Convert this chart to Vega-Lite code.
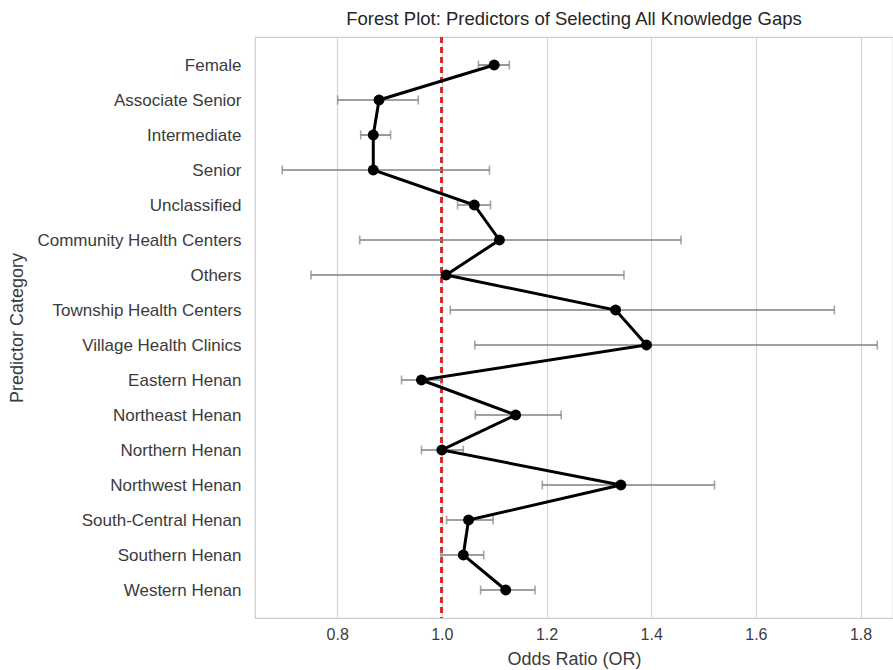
{
  "$schema": "https://vega.github.io/schema/vega-lite/v6.json",
  "width": 638,
  "height": 581,
  "autosize": "none",
  "padding": {"left": 255, "top": 37, "right": 0, "bottom": 52},
  "background": "white",
  "title": {
    "text": "Forest Plot: Predictors of Selecting All Knowledge Gaps",
    "fontSize": 18.5,
    "fontWeight": "normal",
    "font": "Liberation Sans",
    "color": "#262626",
    "offset": 8,
    "anchor": "middle"
  },
  "config": {
    "view": {"stroke": "#cccccc", "strokeWidth": 1.2},
    "font": "Liberation Sans"
  },
  "data": {
    "values": [
      {"p": "Female", "idx": 0, "or": 1.10, "lo": 1.07, "hi": 1.129},
      {"p": "Associate Senior", "idx": 1, "or": 0.88, "lo": 0.801, "hi": 0.955},
      {"p": "Intermediate", "idx": 2, "or": 0.869, "lo": 0.845, "hi": 0.902},
      {"p": "Senior", "idx": 3, "or": 0.869, "lo": 0.695, "hi": 1.091},
      {"p": "Unclassified", "idx": 4, "or": 1.062, "lo": 1.03, "hi": 1.093},
      {"p": "Community Health Centers", "idx": 5, "or": 1.11, "lo": 0.843, "hi": 1.457},
      {"p": "Others", "idx": 6, "or": 1.008, "lo": 0.75, "hi": 1.348},
      {"p": "Township Health Centers", "idx": 7, "or": 1.332, "lo": 1.016, "hi": 1.75},
      {"p": "Village Health Clinics", "idx": 8, "or": 1.391, "lo": 1.063, "hi": 1.832},
      {"p": "Eastern Henan", "idx": 9, "or": 0.961, "lo": 0.923, "hi": 0.998},
      {"p": "Northeast Henan", "idx": 10, "or": 1.141, "lo": 1.064, "hi": 1.228},
      {"p": "Northern Henan", "idx": 11, "or": 1.0, "lo": 0.961, "hi": 1.041},
      {"p": "Northwest Henan", "idx": 12, "or": 1.342, "lo": 1.192, "hi": 1.521},
      {"p": "South-Central Henan", "idx": 13, "or": 1.051, "lo": 1.009, "hi": 1.098},
      {"p": "Southern Henan", "idx": 14, "or": 1.041, "lo": 0.998, "hi": 1.08},
      {"p": "Western Henan", "idx": 15, "or": 1.122, "lo": 1.074, "hi": 1.178}
    ]
  },
  "encoding": {
    "y": {
      "field": "p",
      "type": "nominal",
      "sort": {"field": "idx", "order": "ascending"},
      "scale": {"type": "point", "padding": 0.8},
      "axis": {
        "title": "Predictor Category",
        "titleFontSize": 18,
        "titleFontWeight": "normal",
        "titleColor": "#3b3b3b",
        "titlePadding": 29,
        "labelFontSize": 17,
        "labelColor": "#3b3b3b",
        "labelPadding": 14,
        "labelLimit": 400,
        "ticks": false,
        "tickSize": 0,
        "domain": false,
        "grid": false
      }
    }
  },
  "layer": [
    {
      "mark": {"type": "rule", "color": "#d62728", "strokeWidth": 2, "strokeDash": [6, 4]},
      "encoding": {
        "x": {"datum": 1.0, "type": "quantitative"},
        "y": null
      }
    },
    {
      "mark": {"type": "rule", "color": "#808080", "strokeWidth": 1.6},
      "encoding": {
        "x": {
          "field": "lo",
          "type": "quantitative",
          "scale": {"domain": [0.643, 1.862], "nice": false, "zero": false},
          "axis": {
            "title": "Odds Ratio (OR)",
            "titleFontSize": 18,
            "titleFontWeight": "normal",
            "titleColor": "#3b3b3b",
            "titlePadding": 8,
            "labelFontSize": 16,
            "labelColor": "#3b3b3b",
            "labelPadding": 8,
            "ticks": false,
            "tickSize": 0,
            "domain": false,
            "grid": true,
            "gridColor": "#d6d6d6",
            "gridWidth": 1.2,
            "values": [0.8, 1.0, 1.2, 1.4, 1.6, 1.8],
            "format": ".1f"
          }
        },
        "x2": {"field": "hi"}
      }
    },
    {
      "mark": {"type": "tick", "color": "#808080", "thickness": 1.6, "size": 9, "orient": "vertical"},
      "encoding": {"x": {"field": "lo", "type": "quantitative"}}
    },
    {
      "mark": {"type": "tick", "color": "#808080", "thickness": 1.6, "size": 9, "orient": "vertical"},
      "encoding": {"x": {"field": "hi", "type": "quantitative"}}
    },
    {
      "mark": {"type": "line", "color": "black", "strokeWidth": 3},
      "encoding": {
        "x": {"field": "or", "type": "quantitative"},
        "order": {"field": "idx"}
      }
    },
    {
      "mark": {"type": "point", "filled": true, "color": "black", "opacity": 1, "size": 120},
      "encoding": {"x": {"field": "or", "type": "quantitative"}}
    }
  ]
}
